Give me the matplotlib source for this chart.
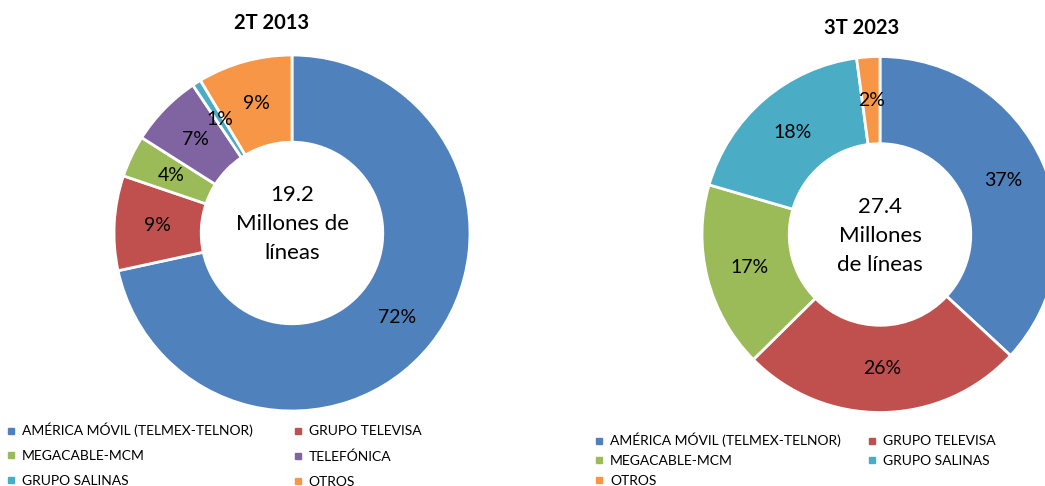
import matplotlib
matplotlib.use("Agg")
import matplotlib.pyplot as plt
from matplotlib.lines import Line2D

plt.rcParams['font.family'] = ['Lato', 'DejaVu Sans']

# 2T 2013
names_2013 = ["AMÉRICA MÓVIL (TELMEX-TELNOR)", "GRUPO TELEVISA", "MEGACABLE-MCM",
              "TELEFÓNICA", "GRUPO SALINAS", "OTROS"]
shares_2013 = [71.6, 8.6, 3.8, 6.6, 0.8, 8.6]
colors_2013 = ["#4F81BD", "#C0504D", "#9BBB59", "#8064A2", "#4BACC6", "#F79646"]
total_2013 = "19.2"

# 3T 2023
names_2023 = ["AMÉRICA MÓVIL (TELMEX-TELNOR)", "GRUPO TELEVISA", "MEGACABLE-MCM",
              "GRUPO SALINAS", "OTROS"]
shares_2023 = [36.9, 25.7, 16.9, 18.4, 2.1]
colors_2023 = ["#4F81BD", "#C0504D", "#9BBB59", "#4BACC6", "#F79646"]
total_2023 = "27.4"

W, H = 1045, 486
fig = plt.figure(figsize=(W / 100, H / 100), dpi=100)


def donut(cx, cy, r, shares, colors):
    # cx, cy, r in pixels (cy from top)
    pad = 1.05
    ax = fig.add_axes([(cx - r * pad) / W, (H - cy - r * pad) / H,
                       2 * r * pad / W, 2 * r * pad / H])
    ax.pie(shares, colors=colors, startangle=90, counterclock=False,
           autopct=lambda p: f"{p:.0f}%", pctdistance=0.755,
           wedgeprops=dict(width=0.49, edgecolor="white", linewidth=2),
           textprops=dict(fontsize=14, color="black"))
    ax.set_xlim(-pad, pad)
    ax.set_ylim(-pad, pad)
    ax.set_aspect("equal")
    return ax


ax1 = donut(292, 233, 178, shares_2013, colors_2013)
ax1.text(0, 0.05, f"{total_2013}\nMillones de\nlíneas", ha="center", va="center",
         fontsize=16, linespacing=1.55)
fig.text(272 / W, 1 - 23 / H, "2T 2013", ha="center", va="center",
         fontsize=14.5, fontweight="bold")

ax2 = donut(880, 234.5, 178, shares_2023, colors_2023)
ax2.text(0, -0.01, f"{total_2023}\nMillones\nde líneas", ha="center", va="center",
         fontsize=16, linespacing=1.55)
fig.text(862 / W, 1 - 28 / H, "3T 2023", ha="center", va="center",
         fontsize=14.5, fontweight="bold")


def handles(names, colors, order):
    return ([Line2D([], [], marker="s", linestyle="None", color=colors[i],
                    markersize=4) for i in order],
            [names[i] for i in order])


h, l = handles(names_2013, colors_2013, [0, 2, 4, 1, 3, 5])
fig.legend(h, l, ncol=2, loc="upper left", bbox_to_anchor=(0 / W, 1 - 416 / H),
           frameon=False, fontsize=10, handlelength=0.6, handletextpad=0.5,
           columnspacing=2.9, labelspacing=0.92, borderpad=0)

h, l = handles(names_2023, colors_2023, [0, 2, 4, 1, 3])
fig.legend(h, l, ncol=2, loc="upper left", bbox_to_anchor=(588 / W, 1 - 426 / H),
           frameon=False, fontsize=10, handlelength=0.6, handletextpad=0.5,
           columnspacing=1.9, labelspacing=0.55, borderpad=0)

fig.savefig("out.png", dpi=100)
